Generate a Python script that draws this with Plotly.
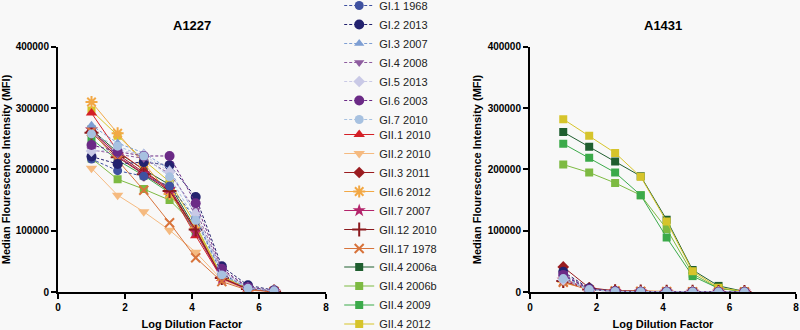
import plotly.graph_objects as go

# ---------------- data ----------------
x_log = [1.00, 1.78, 2.56, 3.33, 4.11, 4.89, 5.67, 6.45]

series_names = ["GI.1 1968", "GI.2 2013", "GI.3 2007", "GI.4 2008", "GI.5 2013",
                "GI.6 2003", "GI.7 2010",
                "GII.1 2010", "GII.2 2010", "GII.3 2011", "GII.6 2012", "GII.7 2007",
                "GII.12 2010", "GII.17 1978",
                "GII.4 2006a", "GII.4 2006b", "GII.4 2009", "GII.4 2012"]

# A1227 panel
a1227_gi1 = [217000, 198000, 189000, 173000, 120000, 30000, 6000, 2000]
a1227_gi2 = [221000, 209000, 212000, 207000, 155000, 42000, 11000, 3000]
a1227_gi3 = [272000, 243000, 227000, 200000, 125000, 32000, 7000, 2000]
a1227_gi4 = [232000, 225000, 218000, 193000, 134000, 35000, 8000, 2000]
a1227_gi5 = [230000, 232000, 224000, 196000, 128000, 33000, 7000, 2000]
a1227_gi6 = [240000, 229000, 222000, 222000, 145000, 38000, 8000, 2000]
a1227_gi7 = [258000, 238000, 222000, 188000, 117000, 28000, 6000, 2000]
a1227_gii1 = [292000, 230000, 199000, 166000, 92000, 22000, 5000, 1000]
a1227_gii2 = [202000, 158000, 131000, 101000, 65000, 20000, 4000, 1000]
a1227_gii3 = [262000, 225000, 195000, 170000, 100000, 24000, 5000, 1000]
a1227_gii6 = [310000, 259000, 210000, 160000, 105000, 25000, 5000, 1000]
a1227_gii7 = [265000, 222000, 193000, 168000, 98000, 22000, 4000, 1000]
a1227_gii12 = [260000, 220000, 192000, 165000, 102000, 23000, 5000, 1000]
a1227_gii17 = [262000, 215000, 166000, 113000, 56000, 17000, 3000, 1000]
a1227_gii4_2006a = [265000, 228000, 200000, 175000, 103000, 26000, 5000, 1000]
a1227_gii4_2006b = [218000, 184000, 168000, 150000, 108000, 27000, 6000, 1000]
a1227_gii4_2009 = [250000, 215000, 190000, 162000, 97000, 24000, 5000, 1000]
a1227_gii4_2012 = [296000, 255000, 215000, 180000, 110000, 26000, 5000, 1000]

# A1431 panel
a1431_gi1 = [27000, 4000, 1000, 500, 300, 200, 200, 100]
a1431_gi2 = [33000, 6000, 1500, 600, 400, 300, 200, 100]
a1431_gi3 = [25000, 4000, 1000, 500, 300, 200, 200, 100]
a1431_gi4 = [30000, 5000, 1200, 500, 300, 200, 200, 100]
a1431_gi5 = [20000, 3000, 800, 400, 300, 200, 200, 100]
a1431_gi6 = [28000, 5000, 1200, 500, 300, 200, 200, 100]
a1431_gi7 = [22000, 4000, 1000, 500, 300, 200, 200, 100]
a1431_gii1 = [22000, 4000, 1500, 600, 400, 300, 200, 100]
a1431_gii2 = [15000, 5000, 2500, 1500, 1000, 600, 300, 100]
a1431_gii3 = [41000, 7000, 2000, 800, 500, 300, 200, 100]
a1431_gii6 = [17000, 4000, 2000, 1200, 800, 500, 300, 100]
a1431_gii7 = [20000, 4000, 1500, 700, 400, 300, 200, 100]
a1431_gii12 = [18000, 4000, 1500, 700, 400, 300, 200, 100]
a1431_gii17 = [16000, 3500, 1500, 800, 500, 300, 200, 100]
a1431_gii4_2006a = [261000, 237000, 213000, 189000, 118000, 36000, 10000, 1000]
a1431_gii4_2006b = [208000, 195000, 178000, 158000, 103000, 30000, 6000, 1000]
a1431_gii4_2009 = [242000, 219000, 195000, 158000, 89000, 26000, 6000, 1000]
a1431_gii4_2012 = [282000, 255000, 227000, 188000, 115000, 34000, 7000, 1000]

a1227_values = [a1227_gi1, a1227_gi2, a1227_gi3, a1227_gi4, a1227_gi5, a1227_gi6, a1227_gi7,
                a1227_gii1, a1227_gii2, a1227_gii3, a1227_gii6, a1227_gii7, a1227_gii12, a1227_gii17,
                a1227_gii4_2006a, a1227_gii4_2006b, a1227_gii4_2009, a1227_gii4_2012]
a1431_values = [a1431_gi1, a1431_gi2, a1431_gi3, a1431_gi4, a1431_gi5, a1431_gi6, a1431_gi7,
                a1431_gii1, a1431_gii2, a1431_gii3, a1431_gii6, a1431_gii7, a1431_gii12, a1431_gii17,
                a1431_gii4_2006a, a1431_gii4_2006b, a1431_gii4_2009, a1431_gii4_2012]

x_ticks = [0, 2, 4, 6, 8]
y_ticks = [0, 100000, 200000, 300000, 400000]

# ---------------- styles ----------------
# (color, symbol, size, dashed, legend)
styles = [
    ("#3F51A0", "circle", 9, True, "legend"),
    ("#23226E", "circle", 10, True, "legend"),
    ("#7D9ED3", "triangle-up", 9, True, "legend"),
    ("#8E5C9F", "triangle-down", 9, True, "legend"),
    ("#C9C9E6", "diamond", 9, True, "legend"),
    ("#6B2A86", "circle", 10, True, "legend"),
    ("#A7C1E0", "circle", 9, True, "legend"),
    ("#D42027", "triangle-up", 10, False, "legend2"),
    ("#F5BA80", "triangle-down", 10, False, "legend2"),
    ("#9A1C20", "diamond", 9, False, "legend2"),
    ("#F2A845", "asterisk-open", 10, False, "legend2"),
    ("#B3246B", "star", 10, False, "legend2"),
    ("#8B1A1E", "cross-thin-open", 10, False, "legend2"),
    ("#D8743C", "x-thin-open", 9, False, "legend2"),
    ("#1F5E2F", "square", 8, False, "legend3"),
    ("#7DBA42", "square", 8, False, "legend3"),
    ("#3BAA4A", "square", 8, False, "legend3"),
    ("#D6C42B", "square", 8, False, "legend3"),
]

FONT = "Arial, Liberation Sans, sans-serif"
BG = "#F8F8F8"

fig = go.Figure()


def add_series(values, xaxis, yaxis, showlegend):
    # draw GII.4 first, then GII, then GI so GI sits on top (as in reference)
    order = list(range(14, 18)) + list(range(7, 14)) + list(range(0, 7))
    for i in order:
        color, symbol, size, dashed, leg = styles[i]
        thin = symbol.endswith("open")
        fig.add_trace(go.Scatter(
            x=x_log, y=values[i], name=series_names[i],
            mode="lines+markers",
            xaxis=xaxis, yaxis=yaxis,
            legend=leg, showlegend=showlegend, legendrank=i + 1,
            line=dict(color=color, width=1, dash="3px,2px" if dashed else "solid"),
            marker=dict(symbol=symbol, size=size, color=color,
                        line=dict(color=color, width=2 if thin else 0)),
        ))


add_series(a1227_values, "x", "y", True)
add_series(a1431_values, "x2", "y2", False)

axis_common = dict(
    showgrid=False, zeroline=False, showline=True, linecolor="black", linewidth=2,
    ticks="outside", ticklen=5, tickwidth=2, tickcolor="black", automargin=False,
    tickfont=dict(family=FONT, size=10, color="black", weight="bold"),
)
x_common = dict(axis_common, range=[0, 8], tickvals=x_ticks,
                title=dict(text="Log Dilution Factor", standoff=8,
                           font=dict(family=FONT, size=11, color="black", weight="bold")))
y_common = dict(axis_common, range=[0, 400000], tickvals=y_ticks,
                tickformat="d",
                title=dict(text="Median Flourescence Intensity (MFI)", standoff=4,
                           font=dict(family=FONT, size=11, color="black", weight="bold")))

leg_common = dict(xref="paper", yref="paper", x=0.424, xanchor="left",
                  yanchor="top", bgcolor="rgba(0,0,0,0)", traceorder="normal",
                  font=dict(family=FONT, size=11, color="#222222"),
                  itemclick=False)

fig.update_layout(
    width=800, height=330,
    margin=dict(l=0, r=0, t=0, b=0, pad=0, autoexpand=False),
    paper_bgcolor=BG, plot_bgcolor=BG,
    xaxis=dict(x_common, domain=[0.0725, 0.4075], anchor="y"),
    yaxis=dict(y_common, domain=[0.115, 0.858], anchor="x"),
    xaxis2=dict(x_common, domain=[0.6625, 0.995], anchor="y2"),
    yaxis2=dict(y_common, domain=[0.115, 0.858], anchor="x2"),
    legend=dict(leg_common, y=1 - (-9) / 330),
    legend2=dict(leg_common, y=1 - 120 / 330),
    legend3=dict(leg_common, y=1 - 252.5 / 330),
    annotations=[
        dict(text="A1227", x=0.24, y=1 - 26 / 330, xref="paper", yref="paper",
             xanchor="center", yanchor="middle", showarrow=False,
             font=dict(family=FONT, size=13, color="black", weight="bold")),
        dict(text="A1431", x=0.829, y=1 - 26 / 330, xref="paper", yref="paper",
             xanchor="center", yanchor="middle", showarrow=False,
             font=dict(family=FONT, size=13, color="black", weight="bold")),
    ],
)

fig.write_html(
    "out.html",
    config={"displayModeBar": False},
    post_script="document.body.style.margin='0px';"
                "document.body.style.background='#F8F8F8';"
                "document.body.style.overflow='hidden';",
)
